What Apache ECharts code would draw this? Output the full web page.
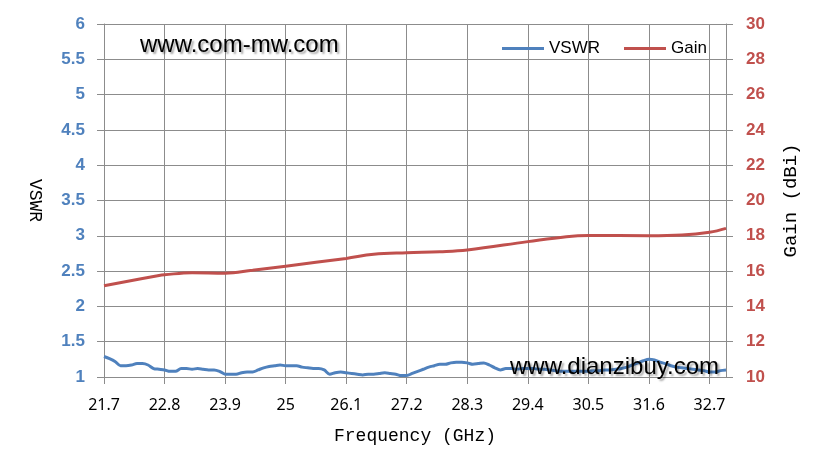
<!DOCTYPE html>
<html><head><meta charset="utf-8">
<script src="https://cdn.jsdelivr.net/npm/echarts@6/dist/echarts.min.js"></script>
<style>html,body{margin:0;padding:0;background:#fff}#c{width:827px;height:473px}</style>
</head><body><div id="c"></div>
<script>
// Frequency categories (GHz), 0.1 GHz step
const freqs = ["21.7","21.8","21.9","22.0","22.1","22.2","22.3","22.4","22.5","22.6",
"22.7","22.8","22.9","23.0","23.1","23.2","23.3","23.4","23.5","23.6",
"23.7","23.8","23.9","24.0","24.1","24.2","24.3","24.4","24.5","24.6",
"24.7","24.8","24.9","25","25.1","25.2","25.3","25.4","25.5","25.6",
"25.7","25.8","25.9","26.0","26.1","26.2","26.3","26.4","26.5","26.6",
"26.7","26.8","26.9","27.0","27.1","27.2","27.3","27.4","27.5","27.6",
"27.7","27.8","27.9","28.0","28.1","28.2","28.3","28.4","28.5","28.6",
"28.7","28.8","28.9","29.0","29.1","29.2","29.3","29.4","29.5","29.6",
"29.7","29.8","29.9","30.0","30.1","30.2","30.3","30.4","30.5","30.6",
"30.7","30.8","30.9","31.0","31.1","31.2","31.3","31.4","31.5","31.6",
"31.7","31.8","31.9","32.0","32.1","32.2","32.3","32.4","32.5","32.6",
"32.7","32.8","32.9","33.0"];
// Category labels shown on the axis, every 1.1 GHz
const freqLabels = ["21.7","22.8","23.9","25","26.1","27.2","28.3","29.4","30.5","31.6","32.7"];
// VSWR values
const vswr = [1.29,1.26,1.22,1.16,1.16,1.17,1.19,1.19,1.17,1.12,
1.11,1.10,1.08,1.08,1.12,1.12,1.11,1.12,1.11,1.10,
1.10,1.08,1.04,1.04,1.04,1.06,1.07,1.07,1.10,1.13,
1.15,1.16,1.17,1.16,1.16,1.16,1.14,1.13,1.12,1.12,
1.10,1.04,1.06,1.07,1.06,1.05,1.04,1.03,1.04,1.04,
1.05,1.06,1.05,1.04,1.02,1.02,1.05,1.08,1.11,1.14,
1.16,1.18,1.18,1.20,1.21,1.21,1.20,1.18,1.19,1.20,
1.17,1.13,1.10,1.12,1.12,1.11,1.12,1.12,1.12,1.11,
1.11,1.10,1.09,1.08,1.08,1.08,1.08,1.08,1.08,1.09,
1.09,1.10,1.10,1.11,1.12,1.14,1.17,1.20,1.23,1.25,
1.24,1.21,1.19,1.16,1.14,1.13,1.12,1.11,1.10,1.09,
1.07,1.07,1.09,1.10];
// Gain read points (frequency, dBi)
const gainFreq = ["21.7","22.7","22.8","23.3","23.9","24.4","25","26.1","26.6","27.2","27.8","28.3","29.4","30.1","30.5","31.6","32.2","32.7","33.0"];
const gainVal  = [15.17,15.75,15.79,15.91,15.88,16.05,16.28,16.72,16.95,17.04,17.10,17.20,17.67,17.95,18.02,18.00,18.04,18.20,18.42];
const vswrTicks = [1,6,0.5];
const gainTicks = [10,30,2];

const gainData = gainFreq.map((f,i)=>[f,gainVal[i]]);
const labelSet = new Set(freqLabels);
const isLab = (idx, v) => labelSet.has(v);
const gridColor = '#8c8c8c';
const chart = echarts.init(document.getElementById('c'));
chart.setOption({
  animation:false,
  grid:{left:104,right:101,top:24,bottom:96,containLabel:false},
  legend:{
    left:497, top:35, icon:'rect', itemWidth:42, itemHeight:3, itemGap:24,
    textStyle:{fontFamily:'Liberation Sans',fontSize:17,color:'#000'},
    data:['VSWR','Gain']
  },
  xAxis:{
    type:'category', data:freqs, boundaryGap:false,
    axisLine:{lineStyle:{color:gridColor}},
    axisTick:{show:true,length:7,interval:isLab,lineStyle:{color:gridColor}},
    axisLabel:{interval:isLab,margin:20,fontFamily:'Noto Sans',fontSize:16,color:'#000'},
    splitLine:{show:true,interval:isLab,lineStyle:{color:gridColor,width:1}},
    name:'Frequency (GHz)', nameLocation:'middle', nameGap:50,
    nameTextStyle:{fontFamily:'Liberation Mono',fontSize:18,color:'#000'}
  },
  yAxis:[{
    type:'value', min:vswrTicks[0], max:vswrTicks[1], interval:vswrTicks[2],
    axisLine:{show:true,lineStyle:{color:gridColor}},
    axisTick:{show:true,length:7,lineStyle:{color:gridColor}},
    axisLabel:{margin:19,fontFamily:'Liberation Sans',fontWeight:'bold',fontSize:17,color:'#4F81BD'},
    splitLine:{show:true,lineStyle:{color:gridColor,width:1}},
    name:'VSWR', nameLocation:'middle', nameGap:60, nameRotate:-90,
    nameTextStyle:{fontFamily:'Liberation Mono',fontSize:18,color:'#000'}
  },{
    type:'value', min:gainTicks[0], max:gainTicks[1], interval:gainTicks[2], position:'right',
    axisLine:{show:true,lineStyle:{color:gridColor}},
    axisTick:{show:true,length:7,lineStyle:{color:gridColor}},
    axisLabel:{margin:20,fontFamily:'Liberation Sans',fontWeight:'bold',fontSize:17,color:'#C0504D'},
    splitLine:{show:false},
    name:'Gain (dBi)', nameLocation:'middle', nameGap:55, nameRotate:90,
    nameTextStyle:{fontFamily:'Liberation Mono',fontSize:19,color:'#000'}
  }],
  series:[{
    name:'VSWR', type:'line', data:vswr, yAxisIndex:0, showSymbol:false, symbol:'none', smooth:0.3,
    lineStyle:{color:'#4F81BD',width:3}, itemStyle:{color:'#4F81BD'}
  },{
    name:'Gain', type:'line', data:gainData, yAxisIndex:1, showSymbol:false, symbol:'none', smooth:0.4,
    lineStyle:{color:'#C0504D',width:3}, itemStyle:{color:'#C0504D'}
  }],
  graphic:[{
    type:'text', left:140, top:33, z:100,
    style:{text:'www.com-mw.com',fontFamily:'Liberation Sans',fontSize:24,fill:'#000',
      textShadowColor:'rgba(0,0,0,0.35)',textShadowBlur:2,textShadowOffsetX:2,textShadowOffsetY:2}
  },{
    type:'text', left:510, top:355, z:100,
    style:{text:'www.dianzibuy.com',fontFamily:'Liberation Sans',fontSize:24,fill:'#000',
      textShadowColor:'rgba(0,0,0,0.35)',textShadowBlur:2,textShadowOffsetX:2,textShadowOffsetY:2}
  }]
});
</script></body></html>
